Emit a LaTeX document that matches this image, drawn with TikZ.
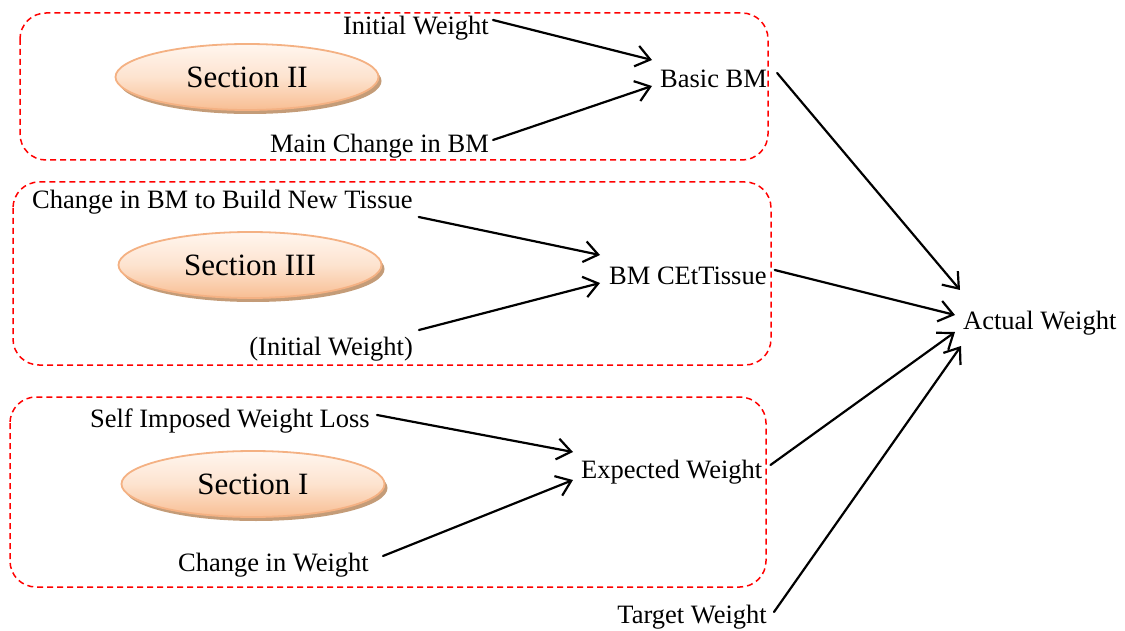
\documentclass[tikz,border=0pt]{standalone}
\usepackage{fontspec}
\setmainfont{Liberation Serif}
\usetikzlibrary{arrows.meta,shapes.geometric}
\definecolor{secborder}{HTML}{F4B183}
\definecolor{sectop}{HTML}{FFF6EF}
\definecolor{secmid}{HTML}{FDE3CF}
\definecolor{secbot}{HTML}{F8BE93}
\definecolor{secshadow}{HTML}{C49C78}
\tikzset{
  group/.style={draw=red, line width=1.5pt, dash pattern=on 6pt off 4pt, rounded corners=26pt},
  section/.style={ellipse, draw=secborder, line width=1.8pt,
    top color=sectop, bottom color=secbot, middle color=secmid,
    minimum width=263pt, minimum height=66pt, inner sep=0pt,
    font=\fontsize{31}{36}\selectfont,
    preaction={fill=secshadow, transform canvas={shift={(3pt,-4pt)}}}},
  lbl/.style={inner sep=0pt, font=\fontsize{26.5}{30}\selectfont},
  arr/.style={-{Straight Barb[length=14pt,width=21pt,line width=2.2pt]}, line width=2.2pt, line cap=round}
}
\begin{document}
\begin{tikzpicture}[x=1pt,y=-1pt]
  \useasboundingbox (0,0) rectangle (1125,631);

  % grouping frames
  \draw[group] (20,13) rectangle (768,160);
  \draw[group] (13,182) rectangle (771,365);
  \draw[group] (10,397) rectangle (766,587);

  % section badges
  \node[section] (s2) at (247,77) {Section II};
  \node[section] (s3) at (250,265) {Section III};
  \node[section] (s1) at (253,484) {Section I};

  % variables
  \node[lbl, anchor=east] (iw)  at (489,28)  {Initial Weight};
  \node[lbl, anchor=east] (mc)  at (489,146) {Main Change in BM};
  \node[lbl, anchor=west] (bbm) at (660,79)  {Basic BM};
  \node[lbl, anchor=west] (cb)  at (32,202)  {Change in BM to Build New Tissue};
  \node[lbl, anchor=west] (bmc) at (609,276) {BM CEtTissue};
  \node[lbl, anchor=east] (iw2) at (413,349) {(Initial Weight)};
  \node[lbl, anchor=east] (siw) at (370,421) {Self Imposed Weight Loss};
  \node[lbl, anchor=west] (ew)  at (581,472) {Expected Weight};
  \node[lbl, anchor=east] (cw)  at (369,565) {Change in Weight};
  \node[lbl, anchor=east] (tw)  at (767,617) {Target Weight};
  \node[lbl, anchor=west] (aw)  at (963,323) {Actual Weight};

  % influences
  \draw[arr] ([shift={(4,-8)}]iw.east)  -- ([shift={(-8,-19)}]bbm.west);
  \draw[arr] ([shift={(4,-6)}]mc.east)  -- ([shift={(-8,7)}]bbm.west);
  \draw[arr] ([shift={(6,15)}]cb.east)  -- ([shift={(-9,-21)}]bmc.west);
  \draw[arr] ([shift={(6,-19)}]iw2.east) -- ([shift={(-9,7)}]bmc.west);
  \draw[arr] ([shift={(7,-6)}]siw.east) -- ([shift={(-8,-20)}]ew.west);
  \draw[arr] ([shift={(14,-9)}]cw.east) -- ([shift={(-8,8)}]ew.west);
  \draw[arr] ([shift={(10,-6)}]bbm.east) -- ([shift={(-3,-33)}]aw.west);
  \draw[arr] ([shift={(8,-6)}]bmc.east) -- ([shift={(-8,-8)}]aw.west);
  \draw[arr] ([shift={(8,-7)}]ew.east)  -- ([shift={(-8,9)}]aw.west);
  \draw[arr] ([shift={(7,-5)}]tw.east)  -- ([shift={(-2,23)}]aw.west);
\end{tikzpicture}
\end{document}
